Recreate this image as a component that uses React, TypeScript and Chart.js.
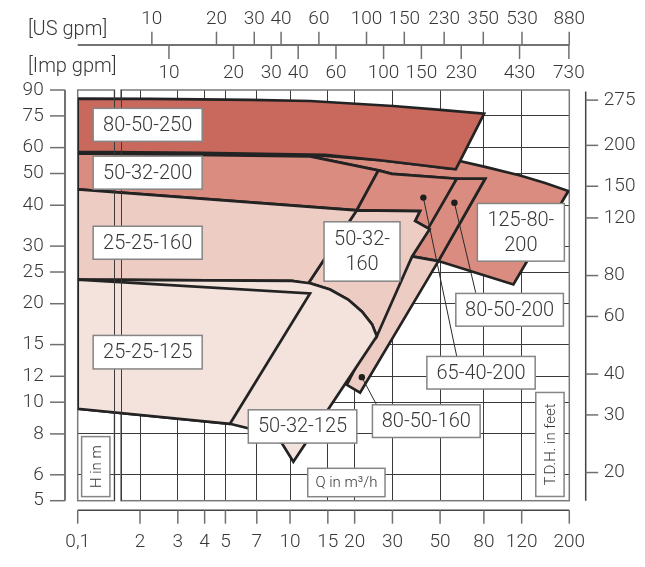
import React, { useEffect, useRef } from 'react';
import { Chart, registerables } from 'chart.js';

Chart.register(...registerables);

// ---------- axes ----------
const FLOW_AXIS_MIN = 1.025; // left edge of the broken flow axis, labelled "0,1"
const FLOW_AXIS_MAX = 200;
const AXIS_BREAK = [1.52, 1.63];
const FLOW_TICKS = [1.025, 2, 3, 4, 5, 7, 10, 15, 20, 30, 50, 80, 120, 200];
const FLOW_TICK_LABELS = ['0,1', '2', '3', '4', '5', '7', '10', '15', '20', '30', '50', '80', '120', '200'];
const HEAD_MIN = 5;
const HEAD_MAX = 90;
const HEAD_TICKS = [5, 6, 8, 10, 12, 15, 20, 25, 30, 40, 50, 60, 75, 90];
const FEET_TICKS = [20, 30, 40, 60, 80, 120, 150, 200, 275];
const US_GPM_TICKS = [10, 20, 30, 40, 60, 100, 150, 230, 350, 530, 880];
const IMP_GPM_TICKS = [10, 20, 30, 40, 60, 100, 150, 230, 430, 730];
const US_GPM_PER_M3H = 4.403;
const IMP_GPM_PER_M3H = 3.666;
const FT_PER_M = 3.281;

// ---------- pump areas (Q in m3/h, H in m) ----------
const Q_125_80_200 = [12.39, 26.26, 40.3, 55.2, 57.5, 81.05, 118, 154.2, 198, 109.8, 72.8, 49.1, 81.05, 59.8, 29.79, 25.8, 12.39];
const H_125_80_200 = [57.1, 54.9, 53.1, 51.8, 55.2, 52.4, 49.3, 46.8, 44.2, 22.9, 24.9, 27.0, 48.2, 48.2, 49.9, 51.1, 56.4];

const Q_80_50_250 = [1.025, 2.23, 6.51, 12.39, 30.2, 50.3, 80.2, 59.16, 40.3, 26.26, 14.56, 3.81, 1.025];
const H_80_50_250 = [84.7, 84.5, 83.9, 83.3, 80.4, 78.3, 76.2, 51.5, 53.1, 54.9, 57.0, 57.8, 58.2];

const Q_50_32_200 = [1.025, 12.39, 25.8, 20.46, 1.025];
const H_50_32_200 = [57.6, 56.4, 51.1, 38.6, 44.7];

const Q_65_40_200 = [25.8, 29.79, 59.8, 44.68, 38.24, 40.3, 20.46];
const H_65_40_200 = [51.1, 49.9, 48.2, 33.8, 35.8, 38.4, 38.6];

const Q_80_50_200 = [59.8, 81.05, 49.1, 37.03];
const H_80_50_200 = [48.2, 48.2, 27.0, 27.9];

const Q_80_50_160 = [37.03, 49.1, 21.2, 18.38];
const H_80_50_160 = [27.9, 27.0, 10.7, 11.3];

const Q_50_32_160 = [20.46, 40.3, 38.24, 44.68, 37.03, 25.36, 24.11, 21.65, 18.64, 15.36, 12.39, 12.13];
const H_50_32_160 = [38.6, 38.4, 35.8, 33.8, 27.9, 15.9, 17.3, 18.9, 20.6, 22.1, 23.1, 23.0];

const Q_25_25_160 = [1.025, 20.46, 12.13, 10.2, 1.025];
const H_25_25_160 = [44.7, 38.6, 23.0, 23.5, 23.7];

const Q_50_32_125 = [1.025, 10.2, 12.39, 15.36, 18.64, 21.65, 24.11, 25.36, 10.36, 9.15, 6.37, 5.25, 1.025];
const H_50_32_125 = [23.7, 23.5, 23.1, 22.1, 20.6, 18.9, 17.3, 15.9, 6.58, 7.5, 8.33, 8.59, 9.55];

const Q_25_25_125 = [1.025, 12.39, 5.25, 1.025];
const H_25_25_125 = [23.7, 21.5, 8.59, 9.55];

// leader lines (dot -> label)
const Q_LEAD_80_50_200 = [58.3, 73.3];
const H_LEAD_80_50_200 = [40.7, 21.6];
const Q_LEAD_65_40_200 = [41.8, 59.8];
const H_LEAD_65_40_200 = [42.2, 13.8];
const Q_LEAD_80_50_160 = [21.6, 25.3];
const H_LEAD_80_50_160 = [11.93, 9.82];

// ---------- styling ----------
const FONT = "Roboto, 'DejaVu Sans', sans-serif";
const W = '300';
const TEXT = '#383838';
const GRID = '#3a3a3a';
const FRAME = '#7a7a7a';
const AXIS_LINE = '#444444';
const TICK = '#707070';
const OUTLINE = '#232323';
const C250 = '#c9695d';
const C200 = '#d98c7f';
const C160 = '#ecccc3';
const C125 = '#f4e2dc';

// annotation boxes: top-left anchored in data units, size in px
const LABEL_BOXES = [
  { lines: ['80-50-250'], q: 1.21, h: 79.1, w: 109, ht: 33 },
  { lines: ['50-32-200'], q: 1.21, h: 56.5, w: 109, ht: 33 },
  { lines: ['25-25-160'], q: 1.21, h: 34.5, w: 109, ht: 33 },
  { lines: ['25-25-125'], q: 1.21, h: 16.0, w: 109, ht: 33.5 },
  { lines: ['50-32-125'], q: 6.39, h: 9.48, w: 108.5, ht: 33.3 },
  { lines: ['50-32-', '160'], q: 14.4, h: 35.6, w: 76, ht: 59.4 },
  { lines: ['125-80-', '200'], q: 74.6, h: 40.5, w: 87, ht: 57.7 },
  { lines: ['80-50-200'], q: 59.2, h: 21.5, w: 107.6, ht: 32.7 },
  { lines: ['65-40-200'], q: 43.4, h: 13.8, w: 108.3, ht: 32.6 },
  { lines: ['80-50-160'], q: 24.2, h: 9.82, w: 107.7, ht: 32.7 },
];
const AXIS_NOTES = [
  { text: 'H in m', q: 1.069, h: 7.85, w: 28.3, ht: 60, vertical: true },
  { text: 'Q in m³/h', q: 12.09, h: 6.28, w: 77.3, ht: 28.4, vertical: false },
  { text: 'T.D.H. in feet', q: 139.6, h: 10.71, w: 28.3, ht: 104, vertical: true },
];

const pts = (qs: number[], hs: number[]) => qs.map((q, i) => ({ x: q, y: hs[i] }));
const polygon = (label: string, qs: number[], hs: number[], color: string) => ({
  label,
  data: pts(qs, hs).concat([{ x: qs[0], y: hs[0] }]),
  backgroundColor: color,
  borderColor: OUTLINE,
  borderWidth: 2.7,
  borderJoinStyle: 'miter' as const,
  fill: 'shape',
  pointRadius: 0,
  tension: 0,
});
const leader = (label: string, qs: number[], hs: number[]) => ({
  label,
  data: pts(qs, hs),
  borderColor: '#2a2a2a',
  borderWidth: 1,
  fill: false,
  pointRadius: [3.2, 0],
  pointBackgroundColor: '#1e1e1e',
  pointBorderWidth: 0,
  tension: 0,
});

const backToFront = [
  polygon('125-80-200', Q_125_80_200, H_125_80_200, C200),
  polygon('50-32-200', Q_50_32_200, H_50_32_200, C200),
  polygon('80-50-250', Q_80_50_250, H_80_50_250, C250),
  polygon('65-40-200', Q_65_40_200, H_65_40_200, C200),
  polygon('80-50-200', Q_80_50_200, H_80_50_200, C200),
  polygon('80-50-160', Q_80_50_160, H_80_50_160, C160),
  polygon('50-32-160', Q_50_32_160, H_50_32_160, C160),
  polygon('25-25-160', Q_25_25_160, H_25_25_160, C160),
  polygon('50-32-125', Q_50_32_125, H_50_32_125, C125),
  polygon('25-25-125', Q_25_25_125, H_25_25_125, C125),
  leader('lead 80-50-200', Q_LEAD_80_50_200, H_LEAD_80_50_200),
  leader('lead 65-40-200', Q_LEAD_65_40_200, H_LEAD_65_40_200),
  leader('lead 80-50-160', Q_LEAD_80_50_160, H_LEAD_80_50_160),
];

const whiteBox = (ctx: CanvasRenderingContext2D, x: number, y: number, w: number, h: number) => {
  ctx.fillStyle = '#ffffff';
  ctx.fillRect(x, y, w, h);
  ctx.strokeStyle = '#858585';
  ctx.lineWidth = 1.5;
  ctx.strokeRect(x, y, w, h);
};

const decor = {
  id: 'decor',
  beforeDatasetsDraw(chart: any) {
    const { ctx, chartArea: a, scales } = chart;
    const b1 = scales.x.getPixelForValue(AXIS_BREAK[0]);
    const b2 = scales.x.getPixelForValue(AXIS_BREAK[1]);
    ctx.save();
    ctx.strokeStyle = FRAME;
    ctx.lineWidth = 1.5;
    ctx.strokeRect(a.left, a.top, b1 - a.left, a.bottom - a.top);
    ctx.strokeRect(b2, a.top, a.right - b2, a.bottom - a.top);
    ctx.restore();
  },
  afterDatasetsDraw(chart: any) {
    const { ctx, chartArea: a, scales } = chart;
    ctx.save();
    ctx.strokeStyle = GRID;
    ctx.lineWidth = 1;
    for (const v of AXIS_BREAK) {
      const x = Math.round(scales.x.getPixelForValue(v)) + 0.5;
      ctx.beginPath();
      ctx.moveTo(x, a.top);
      ctx.lineTo(x, a.bottom);
      ctx.stroke();
    }
    ctx.restore();
  },
  afterDraw(chart: any) {
    const { ctx, chartArea: a, scales } = chart;
    const xs = scales.x;
    const ys = scales.y;
    ctx.save();

    // outer left axis
    const lx = a.left - 12.7;
    ctx.strokeStyle = AXIS_LINE;
    ctx.lineWidth = 1.5;
    ctx.beginPath();
    ctx.moveTo(lx, a.top);
    ctx.lineTo(lx, a.bottom);
    ctx.stroke();
    ctx.strokeStyle = TICK;
    for (const v of HEAD_TICKS) {
      const y = ys.getPixelForValue(v);
      ctx.beginPath();
      ctx.moveTo(lx - 15, y);
      ctx.lineTo(lx, y);
      ctx.stroke();
    }

    // outer bottom axis
    const by = a.bottom + 9.5;
    ctx.strokeStyle = AXIS_LINE;
    ctx.beginPath();
    ctx.moveTo(a.left, by);
    ctx.lineTo(a.right, by);
    ctx.stroke();
    ctx.strokeStyle = TICK;
    for (const v of FLOW_TICKS) {
      const x = xs.getPixelForValue(v);
      ctx.beginPath();
      ctx.moveTo(x, by);
      ctx.lineTo(x, by + 13.5);
      ctx.stroke();
    }

    // outer right axis (feet)
    const rx = a.right + 16.4;
    ctx.strokeStyle = AXIS_LINE;
    ctx.beginPath();
    ctx.moveTo(rx, a.top + 1.5);
    ctx.lineTo(rx, a.bottom);
    ctx.stroke();
    ctx.strokeStyle = TICK;
    for (const ft of FEET_TICKS) {
      const y = ys.getPixelForValue(ft / FT_PER_M);
      ctx.beginPath();
      ctx.moveTo(rx, y);
      ctx.lineTo(rx + 12.5, y);
      ctx.stroke();
    }

    // top gpm axes
    const ty = a.top - 45;
    ctx.strokeStyle = AXIS_LINE;
    ctx.beginPath();
    ctx.moveTo(a.left, ty);
    ctx.lineTo(a.right, ty);
    ctx.stroke();
    ctx.font = `${W} 19px ${FONT}`;
    ctx.fillStyle = TEXT;
    ctx.textAlign = 'center';
    ctx.textBaseline = 'middle';
    ctx.strokeStyle = TICK;
    for (const g of US_GPM_TICKS) {
      const x = xs.getPixelForValue(g / US_GPM_PER_M3H);
      ctx.beginPath();
      ctx.moveTo(x, ty);
      ctx.lineTo(x, ty - 13.3);
      ctx.stroke();
      ctx.fillText(String(g), x, ty - 26);
    }
    for (const g of IMP_GPM_TICKS) {
      const x = xs.getPixelForValue(g / IMP_GPM_PER_M3H);
      ctx.beginPath();
      ctx.moveTo(x, ty);
      ctx.lineTo(x, ty + 14);
      ctx.stroke();
      ctx.fillText(String(g), x, ty + 28);
    }
    ctx.textAlign = 'left';
    ctx.font = `${W} 20px ${FONT}`;
    ctx.fillText('[US gpm]', 28, ty - 15);
    ctx.fillText('[Imp gpm]', 28, ty + 22);

    // pump labels
    for (const b of LABEL_BOXES) {
      const x = xs.getPixelForValue(b.q);
      const y = ys.getPixelForValue(b.h);
      whiteBox(ctx, x, y, b.w, b.ht);
      ctx.fillStyle = TEXT;
      ctx.font = `${W} 20px ${FONT}`;
      ctx.textAlign = 'center';
      ctx.textBaseline = 'middle';
      const n = b.lines.length;
      const lh = 25;
      b.lines.forEach((t, i) => {
        ctx.fillText(t, x + b.w / 2, y + b.ht / 2 + (i - (n - 1) / 2) * lh + 1);
      });
    }

    // axis notes
    for (const n of AXIS_NOTES) {
      const x = xs.getPixelForValue(n.q);
      const y = ys.getPixelForValue(n.h);
      whiteBox(ctx, x, y, n.w, n.ht);
      ctx.fillStyle = TEXT;
      ctx.font = `${W} 15px ${FONT}`;
      ctx.textAlign = 'center';
      ctx.textBaseline = 'middle';
      ctx.save();
      ctx.translate(x + n.w / 2, y + n.ht / 2);
      if (n.vertical) ctx.rotate(-Math.PI / 2);
      ctx.fillText(n.text, 0, 1);
      ctx.restore();
    }
    ctx.restore();
  },
};

export default function App() {
  const ref = useRef<HTMLCanvasElement>(null);
  useEffect(() => {
    document.body.style.margin = '0';
    const canvas = ref.current;
    if (!canvas) return;
    Chart.defaults.font.family = FONT;
    Chart.defaults.color = TEXT;
    const datasets = backToFront.slice().reverse();
    const hideEdge = (lo: number, hi: number) => (c: any) =>
      c.tick && (Math.abs(c.tick.value - lo) < 1e-6 || Math.abs(c.tick.value - hi) < 1e-6) ? 'rgba(0,0,0,0)' : GRID;
    const tickFont = { size: 19, family: FONT, weight: W };
    const chart = new Chart(canvas, {
      type: 'line',
      data: { datasets: datasets as any },
      options: {
        responsive: false,
        animation: false,
        devicePixelRatio: 1,
        events: [],
        layout: { padding: { top: 90, left: 0, right: 0, bottom: 0 } },
        plugins: { legend: { display: false }, tooltip: { enabled: false } },
        scales: {
          x: {
            type: 'logarithmic',
            position: 'bottom',
            min: FLOW_AXIS_MIN,
            max: FLOW_AXIS_MAX,
            z: 1,
            afterBuildTicks: (s: any) => { s.ticks = FLOW_TICKS.map((v) => ({ value: v })); },
            afterFit: (s: any) => { s.height = 66.3; },
            ticks: {
              autoSkip: false, maxRotation: 0, minRotation: 0, padding: 30,
              font: tickFont, color: TEXT,
              callback: (_v: any, i: number) => FLOW_TICK_LABELS[i],
            },
            grid: { color: hideEdge(FLOW_AXIS_MIN, FLOW_AXIS_MAX), lineWidth: 1, drawTicks: false },
            border: { display: false },
          },
          y: {
            type: 'logarithmic',
            position: 'left',
            min: HEAD_MIN,
            max: HEAD_MAX,
            z: 1,
            afterBuildTicks: (s: any) => { s.ticks = HEAD_TICKS.map((v) => ({ value: v })); },
            afterFit: (s: any) => { s.width = 77.7; },
            ticks: {
              autoSkip: false, padding: 34, font: tickFont, color: TEXT,
              callback: (v: any) => String(v),
            },
            grid: { color: hideEdge(HEAD_MIN, HEAD_MAX), lineWidth: 1, drawTicks: false },
            border: { display: false },
          },
          yFt: {
            type: 'logarithmic',
            position: 'right',
            min: HEAD_MIN * FT_PER_M,
            max: HEAD_MAX * FT_PER_M,
            afterBuildTicks: (s: any) => { s.ticks = FEET_TICKS.map((v) => ({ value: v })); },
            afterFit: (s: any) => { s.width = 75.7; },
            ticks: {
              autoSkip: false, padding: 34.5, font: tickFont, color: TEXT,
              callback: (v: any) => String(v),
            },
            grid: { drawOnChartArea: false, drawTicks: false },
            border: { display: false },
          },
        },
      } as any,
      plugins: [decor],
    });
    return () => chart.destroy();
  }, []);
  return (
    <div style={{ width: 645, height: 567 }}>
      <canvas ref={ref} width={645} height={567} style={{ display: 'block' }} />
    </div>
  );
}
